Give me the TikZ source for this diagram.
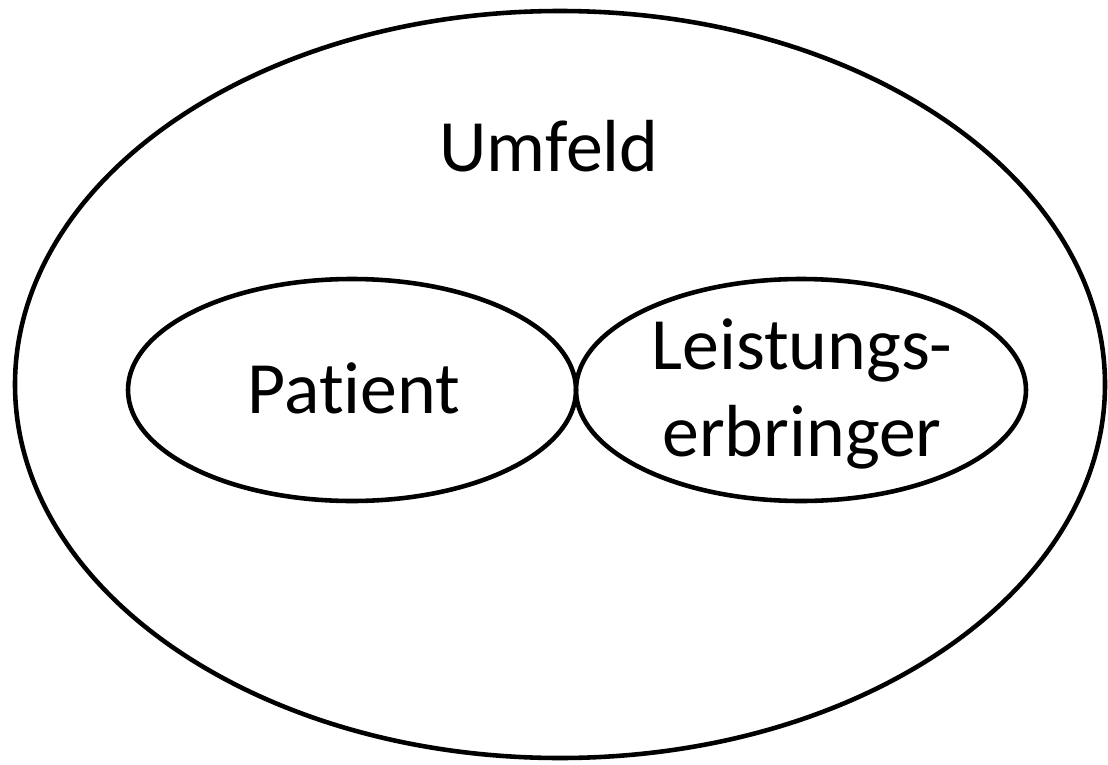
\documentclass[tikz,border=0pt]{standalone}
\usepackage{fontspec}
\setmainfont[Ligatures=NoCommon]{Carlito}
\usetikzlibrary{shapes.geometric}
\tikzset{
    kreis/.style={ellipse, draw, line width=1.3pt, inner sep=0pt},
    schrift/.style={font=\fontsize{21}{25}\selectfont, align=center}
}
\begin{document}
\begin{tikzpicture}
        \useasboundingbox (0,0) rectangle (11.08,7.64);

        \node[kreis, minimum width=10.9cm, minimum height=7.47cm] (umfeld) at (5.60, 3.795) {};
        \node[kreis, minimum width=4.48cm, minimum height=2.22cm] (patient) at (3.52, 3.74) {};
        \node[kreis, minimum width=4.50cm, minimum height=2.22cm] (erbringer) at (8.01, 3.74) {};

        \node[schrift] (umfeldtext) at (5.49, 6.18) {Umfeld};
        \node[schrift] (patienttext) at (3.54, 3.76) {Patient};
        \node[schrift] (erbringertext) at (8.02, 3.70) {Leistungs-\\erbringer};

    \end{tikzpicture}
\end{document}
